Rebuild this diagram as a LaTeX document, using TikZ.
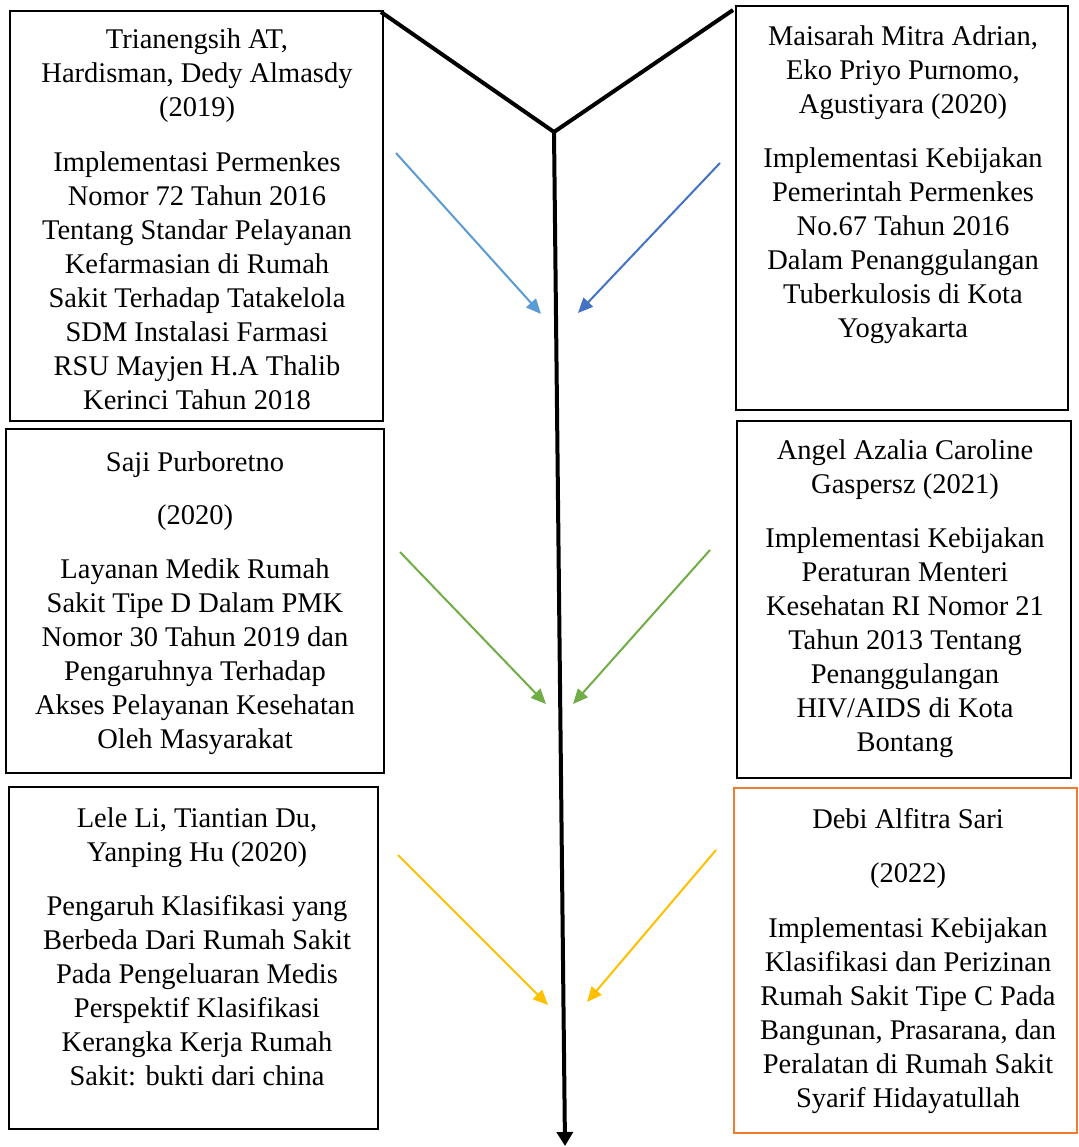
\documentclass[tikz,border=0pt]{standalone}
\usepackage{fontspec}
\setmainfont{Liberation Serif}
\usetikzlibrary{arrows.meta}
\definecolor{lblue}{HTML}{5B9BD5}
\definecolor{dblue}{HTML}{4472C4}
\definecolor{lgreen}{HTML}{70AD47}
\definecolor{lyellow}{HTML}{FFC000}
\definecolor{lorange}{HTML}{ED7D31}
\begin{document}
\begin{tikzpicture}[x=1pt,y=-1pt,
  box/.style={draw=black,line width=2pt,inner sep=0pt,rectangle},
  txt/.style={align=center,inner sep=0pt,anchor=north,font=\fontsize{28.5}{34}\selectfont},
  mainline/.style={line width=4pt,line join=miter},
  conn/.style={line width=2pt,-{Triangle[length=15pt,width=13pt]}}
]
\useasboundingbox[fill=white] (0,0) rectangle (1078,1147);

% boxes
\node[box,minimum width=373pt,minimum height=410pt] (b1) at (196.5,216) {};
\node[box,minimum width=332pt,minimum height=404pt] (b2) at (902,208) {};
\node[box,minimum width=378pt,minimum height=344pt] (b3) at (195,601) {};
\node[box,minimum width=334pt,minimum height=357pt] (b4) at (904,599.5) {};
\node[box,minimum width=369pt,minimum height=342pt] (b5) at (193.5,958) {};
\node[box,draw=lorange,minimum width=343pt,minimum height=345pt] (b6) at (905,960.5) {};

% texts
\node[txt] (t1) at (197,29) {Trianengsih AT,\\Hardisman, Dedy Almasdy\\(2019)\\[21pt]Implementasi Permenkes\\Nomor 72 Tahun 2016\\Tentang Standar Pelayanan\\Kefarmasian di Rumah\\Sakit Terhadap Tatakelola\\SDM Instalasi Farmasi\\RSU Mayjen H.A Thalib\\Kerinci Tahun 2018};
\node[txt] (t2) at (903,26) {Maisarah Mitra Adrian,\\Eko Priyo Purnomo,\\Agustiyara (2020)\\[20pt]Implementasi Kebijakan\\Pemerintah Permenkes\\No.67 Tahun 2016\\Dalam Penanggulangan\\Tuberkulosis di Kota\\Yogyakarta};
\node[txt] (t3) at (195,452) {Saji Purboretno\\[19pt](2020)\\[19.5pt]Layanan Medik Rumah\\Sakit Tipe D Dalam PMK\\Nomor 30 Tahun 2019 dan\\Pengaruhnya Terhadap\\Akses Pelayanan Kesehatan\\Oleh Masyarakat};
\node[txt] (t4) at (905,440) {Angel Azalia Caroline\\Gaspersz (2021)\\[20pt]Implementasi Kebijakan\\Peraturan Menteri\\Kesehatan RI Nomor 21\\Tahun 2013 Tentang\\Penanggulangan\\HIV/AIDS di Kota\\Bontang};
\node[txt] (t5) at (197,808) {Lele Li, Tiantian Du,\\Yanping Hu (2020)\\[19.5pt]Pengaruh Klasifikasi yang\\Berbeda Dari Rumah Sakit\\Pada Pengeluaran Medis\\Perspektif Klasifikasi\\Kerangka Kerja Rumah\\Sakit: bukti dari china};
\node[txt] (t6) at (908,808) {Debi Alfitra Sari\\[20pt](2022)\\[21pt]Implementasi Kebijakan\\Klasifikasi dan Perizinan\\Rumah Sakit Tipe C Pada\\Bangunan, Prasarana, dan\\Peralatan di Rumah Sakit\\Syarif Hidayatullah};

% main structure
\coordinate (tl) at (381,12);
\coordinate (tr) at (733,10);
\coordinate (j) at (554,132);
\coordinate (bot) at (565,1146);
\draw[mainline] (tl) -- (j) -- (tr);
\draw[mainline,-{Triangle[length=14pt,width=16pt]}] (j) -- (bot);

% colored arrows
\coordinate (a1s) at (396,153); \coordinate (a1e) at (541,314);
\coordinate (a2s) at (720,163); \coordinate (a2e) at (578,313);
\coordinate (a3s) at (400,552); \coordinate (a3e) at (546,704);
\coordinate (a4s) at (710,550); \coordinate (a4e) at (573,704);
\coordinate (a5s) at (398,855); \coordinate (a5e) at (548,1005);
\coordinate (a6s) at (716,850); \coordinate (a6e) at (587,1002);
\draw[conn,lblue] (a1s) -- (a1e);
\draw[conn,dblue] (a2s) -- (a2e);
\draw[conn,lgreen] (a3s) -- (a3e);
\draw[conn,lgreen] (a4s) -- (a4e);
\draw[conn,lyellow] (a5s) -- (a5e);
\draw[conn,lyellow] (a6s) -- (a6e);
\end{tikzpicture}
\end{document}
